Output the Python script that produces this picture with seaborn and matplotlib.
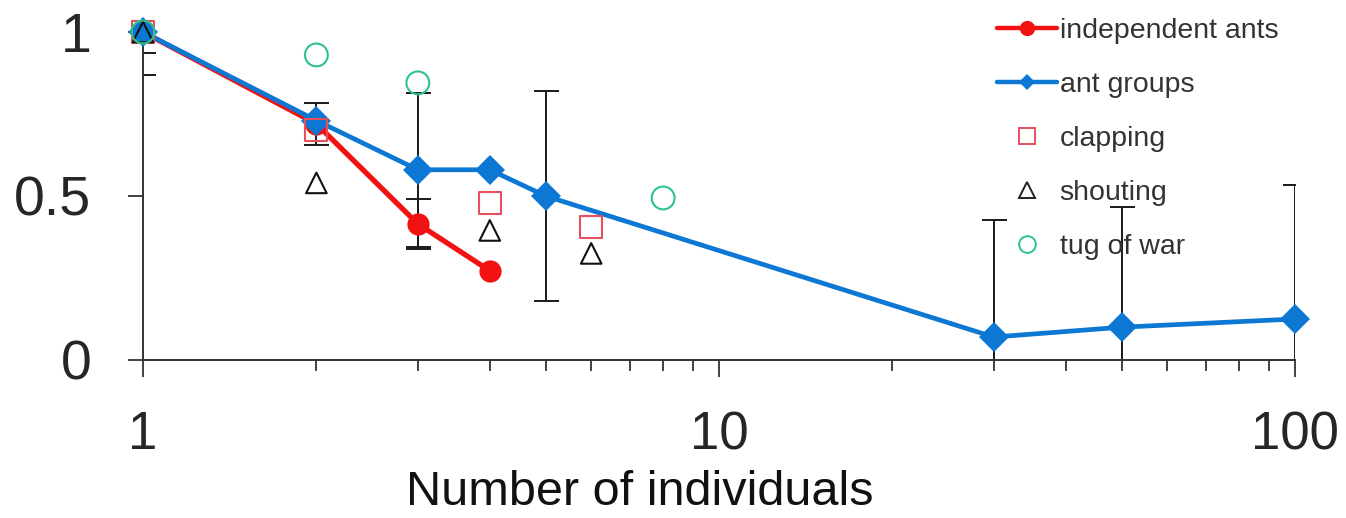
import matplotlib
matplotlib.use("Agg")
import matplotlib.pyplot as plt
from matplotlib.lines import Line2D
from matplotlib.ticker import LogLocator, NullFormatter, FixedLocator
import pandas as pd
import seaborn as sns

# independent ants
ant_n = [1, 2, 3, 4]
ant_val = [1.0, 0.72, 0.415, 0.272]
ant_err = [0.065, 0.065, 0.076, 0.0]

# ant groups
group_n = [1, 2, 3, 4, 5, 30, 50, 100]
group_val = [1.0, 0.73, 0.58, 0.58, 0.5, 0.07, 0.10, 0.125]
group_err = [0.13, 0.0, 0.235, 0.0, 0.32, 0.357, 0.367, 0.41]

# human tasks
clap_n = [1, 2, 4, 6]
clap_val = [1.0, 0.70, 0.48, 0.405]
shout_n = [1, 2, 4, 6]
shout_val = [1.0, 0.54, 0.395, 0.325]
tug_n = [1, 2, 3, 8]
tug_val = [1.0, 0.93, 0.845, 0.494]

RED = "#f21212"
BLUE = "#0c78d4"
SQ = "#e6505c"
GREEN = "#2cc48a"

sns.set_theme(style="white")
plt.rcParams["font.family"] = ["Liberation Sans", "DejaVu Sans"]

fig = plt.figure(figsize=(13.46, 5.18), dpi=100)
ax = fig.add_axes([143 / 1346, 1 - 360 / 518, 1152 / 1346, 328 / 518])
ax.set_xscale("log")

ants = pd.DataFrame({"n": ant_n, "val": ant_val, "err": ant_err})
groups = pd.DataFrame({"n": group_n, "val": group_val, "err": group_err})

# error bars only where there is a spread
for df in (groups, ants):
    eb = df[df["err"] > 0]
    ax.errorbar(eb["n"], eb["val"], yerr=eb["err"], fmt="none",
                ecolor="#1a1a1a", elinewidth=1.4, capsize=9, capthick=1.4, zorder=1)

sns.lineplot(data=ants, x="n", y="val", ax=ax, color=RED, lw=3.8, marker="o",
             markersize=16, markeredgewidth=0, sort=False, zorder=3, clip_on=False)
sns.lineplot(data=groups, x="n", y="val", ax=ax, color=BLUE, lw=3.4, marker="D",
             markersize=15, markeredgewidth=0, sort=False, zorder=4, clip_on=False)

sns.scatterplot(x=clap_n, y=clap_val, ax=ax, marker="s", s=250, facecolors="none",
                edgecolor=SQ, linewidth=1.5, zorder=5, clip_on=False)
sns.scatterplot(x=shout_n, y=shout_val, ax=ax, marker="^", s=220, facecolors="none",
                edgecolor="#111111", linewidth=1.5, zorder=5, clip_on=False)
sns.scatterplot(x=tug_n, y=tug_val, ax=ax, marker="o", s=270, facecolors="none",
                edgecolor=GREEN, linewidth=1.5, zorder=5, clip_on=False)

ax.set_xlim(1, 100)
ax.set_ylim(0, 1)
for side in ["top", "right"]:
    ax.spines[side].set_visible(False)
for side in ["left", "bottom"]:
    ax.spines[side].set_color("#333333")
    ax.spines[side].set_linewidth(1.4)

ax.xaxis.set_major_locator(FixedLocator([1, 10, 100]))
ax.set_xticklabels(["1", "10", "100"])
ax.xaxis.set_minor_locator(LogLocator(base=10, subs=range(2, 10)))
ax.xaxis.set_minor_formatter(NullFormatter())
ax.set_yticks([0, 0.5, 1])
ax.set_yticklabels(["0", "0.5", "1"])

ax.tick_params(axis="x", which="major", direction="out", length=12, width=1.3,
               color="#333333", labelsize=38, pad=24, bottom=True)
ax.tick_params(axis="x", which="minor", direction="out", length=8, width=1.3,
               color="#333333", bottom=True)
ax.tick_params(axis="y", which="major", direction="out", length=11, width=1.3,
               color="#333333", labelsize=40, pad=26, left=True)

ax.set_xlabel("Number of individuals", fontsize=35, color="#111111",
              verticalalignment="baseline")
ax.set_ylabel("")
ax.xaxis.set_label_coords(0.431, -0.442)

handles = [
    Line2D([], [], color=RED, lw=3.2, marker="o", ms=11, mew=0),
    Line2D([], [], color=BLUE, lw=3.2, marker="D", ms=8, mew=0),
    Line2D([], [], ls="", marker="s", ms=12, mfc="none", mec=SQ, mew=1.4),
    Line2D([], [], ls="", marker="^", ms=11, mfc="none", mec="#222222", mew=1.4),
    Line2D([], [], ls="", marker="o", ms=12, mfc="none", mec=GREEN, mew=1.4),
]
labels = ["independent ants", "ant groups", "clapping", "shouting", "tug of war"]
leg = fig.legend(handles, labels, loc="upper left",
                 bbox_to_anchor=(997 / 1346, 1 - 18 / 518), frameon=False,
                 fontsize=20.5, handlelength=2.1, handletextpad=0.1,
                 labelspacing=0.98, borderpad=0, borderaxespad=0, numpoints=1)
for t in leg.get_texts():
    t.set_color("#333333")

plt.savefig("out.png", dpi=100)
plt.close()
